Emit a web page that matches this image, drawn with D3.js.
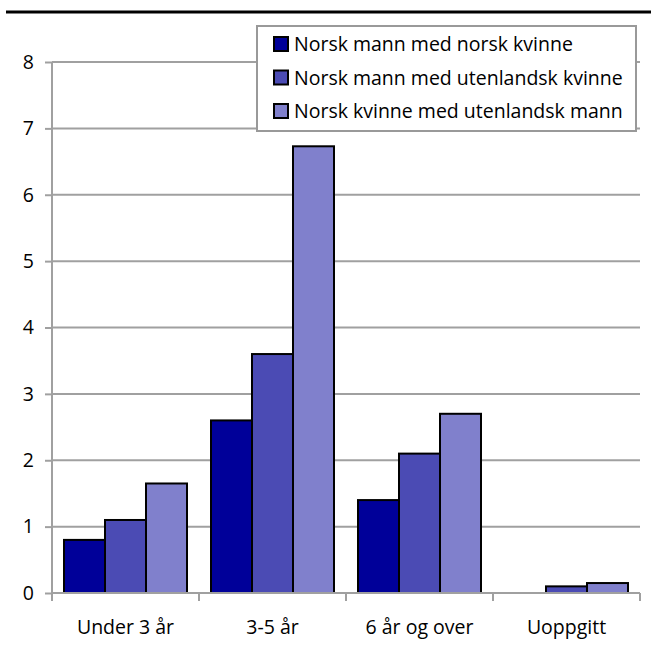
<!DOCTYPE html>
<html>
<head>
<meta charset="utf-8">
<script src="https://cdn.jsdelivr.net/npm/d3@7"></script>
<style>
  html, body { margin: 0; padding: 0; background: #fff; }
  svg { display: block; font-family: "Open Sans", "Noto Sans", sans-serif; }
</style>
</head>
<body>
<svg id="chart" width="651" height="650"></svg>
<script>
// Categories (duration) and the three couple types
const categories = ["Under 3 år", "3-5 år", "6 år og over", "Uoppgitt"];
const seriesNames = [
  "Norsk mann med norsk kvinne",
  "Norsk mann med utenlandsk kvinne",
  "Norsk kvinne med utenlandsk mann"
];
const norskNorsk = [0.8, 2.6, 1.4, 0];
const mannUtenlandsk = [1.1, 3.6, 2.1, 0.1];
const kvinneUtenlandsk = [1.65, 6.73, 2.7, 0.15];
const yTicks = [0, 1, 2, 3, 4, 5, 6, 7, 8];
const colors = ["#000099", "#4b4bb4", "#8080cc"];

const series = [norskNorsk, mannUtenlandsk, kvinneUtenlandsk];

const svg = d3.select("#chart");
const plotLeft = 52, plotRight = 640, plotTop = 62, plotBottom = 593;
const fontSize = 19.5;

// Rule across the top of the figure
svg.append("line")
  .attr("x1", 6).attr("x2", 651).attr("y1", 12).attr("y2", 12)
  .attr("stroke", "#000").attr("stroke-width", 3);

const x0 = d3.scaleBand().domain(categories).range([plotLeft, plotRight]).paddingInner(0).paddingOuter(0);
const x1 = d3.scaleBand().domain(d3.range(series.length))
  .range([12, x0.bandwidth() - 12]).padding(0);
const y = d3.scaleLinear().domain([0, 8]).range([plotBottom, plotTop]);

const grid = "#a0a0a0";

// Horizontal gridlines
svg.append("g").selectAll("line").data(yTicks.filter(d => d > 0)).join("line")
  .attr("x1", plotLeft).attr("x2", plotRight)
  .attr("y1", d => y(d)).attr("y2", d => y(d))
  .attr("stroke", grid).attr("stroke-width", 2);

// Y axis
const yAxis = svg.append("g").attr("transform", `translate(${plotLeft},0)`)
  .call(d3.axisLeft(y).tickValues(yTicks).tickSize(7).tickPadding(11).tickFormat(d3.format("d")));
yAxis.select(".domain").remove();
yAxis.selectAll(".tick line").attr("stroke", grid).attr("stroke-width", 2);
yAxis.selectAll(".tick text").attr("font-size", fontSize).attr("fill", "#000")
  .attr("font-family", "'Open Sans', 'Noto Sans', sans-serif");
svg.append("line").attr("x1", plotLeft).attr("x2", plotLeft).attr("y1", plotTop).attr("y2", plotBottom + 8)
  .attr("stroke", grid).attr("stroke-width", 2);

// Bars
const groups = svg.append("g").selectAll("g").data(categories).join("g")
  .attr("transform", d => `translate(${x0(d)},0)`);
groups.selectAll("rect")
  .data((c, i) => series.map((s, k) => ({ k, v: s[i] })).filter(d => d.v > 0))
  .join("rect")
  .attr("x", d => x1(d.k))
  .attr("width", x1.bandwidth())
  .attr("y", d => y(d.v))
  .attr("height", d => y(0) - y(d.v))
  .attr("fill", d => colors[d.k])
  .attr("stroke", "#000").attr("stroke-width", 2);

// X axis
svg.append("line").attr("x1", plotLeft).attr("x2", plotRight).attr("y1", plotBottom).attr("y2", plotBottom)
  .attr("stroke", grid).attr("stroke-width", 2);
const boundaries = categories.map(c => x0(c)).concat([plotRight]);
svg.append("g").selectAll("line").data(boundaries).join("line")
  .attr("x1", d => d).attr("x2", d => d).attr("y1", plotBottom).attr("y2", plotBottom + 8)
  .attr("stroke", grid).attr("stroke-width", 2);
svg.append("g").selectAll("text").data(categories).join("text")
  .attr("x", d => x0(d) + x0.bandwidth() / 2)
  .attr("y", 634)
  .attr("text-anchor", "middle")
  .attr("font-size", fontSize)
  .attr("fill", "#000")
  .text(d => d);

// Legend
const lg = svg.append("g");
lg.append("rect").attr("x", 257).attr("y", 26).attr("width", 379).attr("height", 105)
  .attr("fill", "#fff").attr("stroke", "#999").attr("stroke-width", 2);
const rows = lg.selectAll("g").data(seriesNames).join("g")
  .attr("transform", (d, i) => `translate(274,${44 + i * 33.5})`);
rows.append("rect").attr("x", 0).attr("y", -7).attr("width", 14).attr("height", 14)
  .attr("fill", (d, i) => colors[i]).attr("stroke", "#000").attr("stroke-width", 2);
rows.append("text").attr("x", 20).attr("y", 7).attr("font-size", fontSize).attr("fill", "#000")
  .text(d => d);
</script>
</body>
</html>
